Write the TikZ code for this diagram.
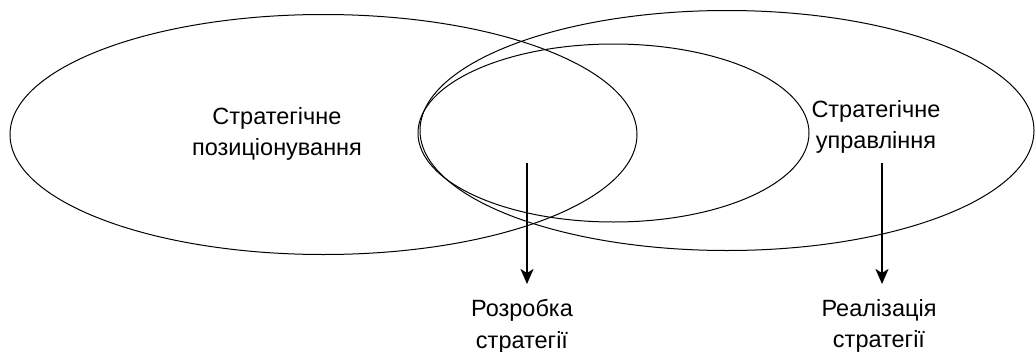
\documentclass[tikz,border=0pt]{standalone}
\usepackage{fontspec}
\setmainfont{Liberation Sans}
\usetikzlibrary{arrows.meta}
\begin{document}
\begin{tikzpicture}[x=1pt,y=-1pt,
  ring/.style={draw=black,line width=1pt},
  lbl/.style={align=center,inner sep=0pt,font=\fontsize{23.5}{31.7}\selectfont},
  flow/.style={draw=black,line width=2pt,-{Stealth[length=15pt,width=13pt,inset=4pt]}}]
\useasboundingbox (0,0) rectangle (1036,351);
\draw[ring] (323.5,134.5) ellipse [x radius=313.5, y radius=120];
\draw[ring] (727,130.5) ellipse [x radius=307, y radius=120];
\draw[ring] (613.5,133) ellipse [x radius=195.5, y radius=89];
\node[lbl] (pos) at (277,134) {Стратегічне\\позиціонування};
\node[lbl] (upr) at (876,127) {Стратегічне\\управління};
\node[lbl] (roz) at (522,326) {Розробка\\стратегії};
\node[lbl] (real) at (879,326) {Реалізація\\стратегії};
\coordinate (a1) at (527,163);
\coordinate (b1) at (527,284);
\coordinate (a2) at (882,163);
\coordinate (b2) at (882,284);
\draw[flow] (a1) -- (b1);
\draw[flow] (a2) -- (b2);
\end{tikzpicture}
\end{document}
